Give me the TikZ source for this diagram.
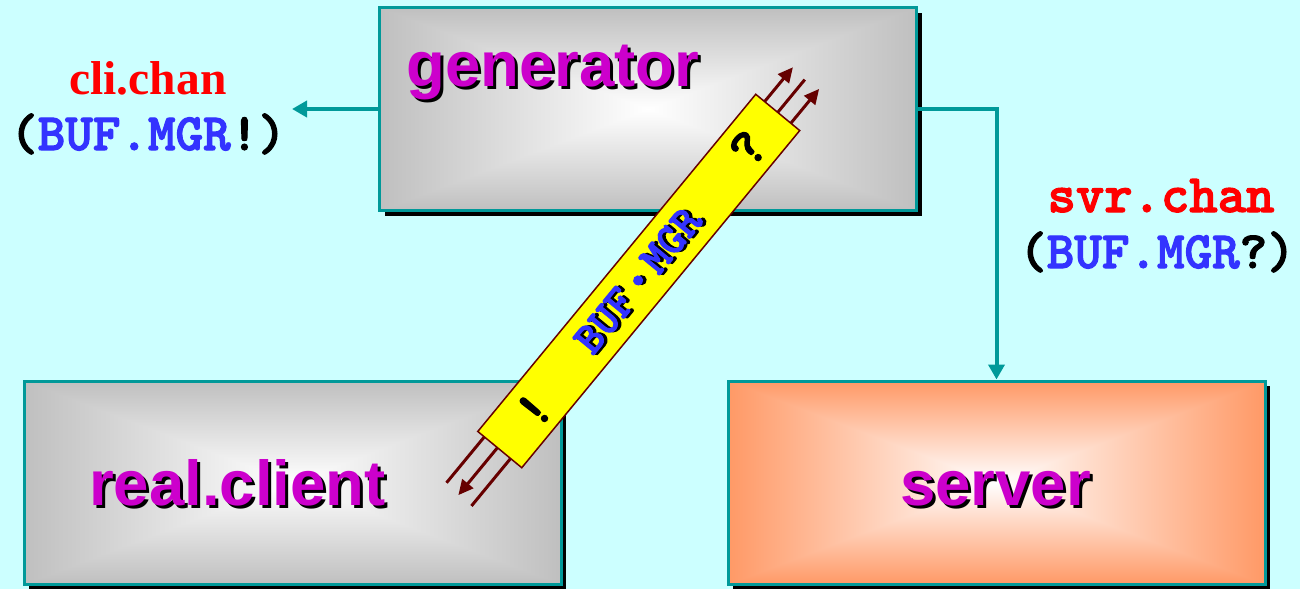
\documentclass[tikz,border=0pt]{standalone}
\usepackage{fontspec}
\setmainfont{Liberation Sans}
\newfontfamily\serifb{Liberation Serif}
\newfontfamily\monob{lmmonolt10-bold.otf}[FakeBold=2.2]
\usetikzlibrary{arrows.meta,shadings,shadows}

\definecolor{bgc}{HTML}{CCFFFF}
\definecolor{tealc}{HTML}{009999}
\definecolor{magc}{HTML}{CC00CC}
\definecolor{redc}{HTML}{FF0000}
\definecolor{bluec}{HTML}{3333FF}
\definecolor{dredc}{HTML}{660000}
\definecolor{barc}{HTML}{FFFF00}

\pgfdeclarefunctionalshading{graybox}{\pgfpoint{-50bp}{-50bp}}{\pgfpoint{50bp}{50bp}}{}{
  abs exch abs 2 copy lt {exch} if pop 25 div dup 1 gt {pop 1} if
  0.25 mul 1 exch sub dup dup
}
\pgfdeclarefunctionalshading{orangebox}{\pgfpoint{-50bp}{-50bp}}{\pgfpoint{50bp}{50bp}}{}{
  abs exch abs 2 copy lt {exch} if pop 25 div dup 1 gt {pop 1} if
  dup 0.4 mul 1 exch sub exch 0.6 mul 1 exch sub 1 3 1 roll
}

\newcommand\shadowed[3]{\leavevmode\rlap{\hspace{#2}\raisebox{-#2}{\color{black}#3}}{\color{#1}#3}}

\begin{document}
\begin{tikzpicture}[x=1pt,y=1pt,
  procbox/.style={draw=tealc, line width=3pt, minimum width=537pt, minimum height=203pt,
    inner sep=0pt, drop shadow={shadow xshift=5pt, shadow yshift=-5pt, fill=black, opacity=1}},
  boxlabel/.style={anchor=base west, inner sep=0pt, font=\bfseries\fontsize{63.5}{63.5}\selectfont},
  conn/.style={draw=tealc, line width=4pt, -{Triangle[length=15pt,width=16pt]}},
  chanlabel/.style={anchor=base, inner sep=0pt},
  barstyle/.style={draw=dredc, line width=1.5pt, fill=barc, minimum width=437pt, minimum height=57pt, inner sep=0pt},
  barline/.style={draw=dredc, line width=3pt},
  bararrow/.style={barline, -{Triangle[length=15pt,width=14pt]}},
  bartext/.style={inner sep=0pt, font=\monob\fontsize{45}{45}\selectfont},
  marktext/.style={inner sep=0pt, font=\monob\fontsize{54}{54}\selectfont}
]
\fill[bgc] (0,0) rectangle (1300,-589);
\useasboundingbox (0,0) rectangle (1300,-589);

% boxes
\node[procbox, shading=graybox] (gen) at (648,-109) {};
\node[procbox, shading=graybox] (cli) at (292.5,-482.5) {};
\node[procbox, shading=orangebox] (srv) at (996.5,-482.5) {};

% box labels
\node[boxlabel] (genl) at (406,-86) {\shadowed{magc}{3pt}{generator}};
\node[boxlabel] (clil) at (89,-505) {\shadowed{magc}{3pt}{real.client}};
\node[boxlabel] (srvl) at (900,-505) {\shadowed{magc}{3pt}{server}};

% channel labels
\node[chanlabel, font=\serifb\bfseries\fontsize{47.5}{47.5}\selectfont, text=redc] (clic) at (148,-94) {cli.chan};
\node[chanlabel, font=\monob\fontsize{52.5}{52.5}\selectfont] (clit) at (148,-150) {(\textcolor{bluec}{BUF.MGR}!)};
\node[chanlabel, font=\monob\fontsize{54}{54}\selectfont, text=redc] (svrc) at (1161,-212) {svr.chan};
\node[chanlabel, font=\monob\fontsize{52.5}{52.5}\selectfont] (svrt) at (1157,-268) {(\textcolor{bluec}{BUF.MGR}?)};

% connectors
\coordinate (cliend) at (292,-109);
\draw[conn] (gen.west) -- (cliend);
\draw[conn] (gen.east) -| (srv.north);

% yellow bar
\begin{scope}[shift={(638.75,-281)}, rotate=50.5, transform shape]
  \node[barstyle] (bar) at (0,0) {};
  \node[bartext] (bartxt) at (0,0) {\shadowed{bluec}{2.5pt}{BUF\raisebox{0.2em}{\scalebox{1.4}{.}}MGR}};
  \node[marktext] (qm) at (172,0) {?};
  \node[marktext] (em) at (-166,-1) {!};
  \coordinate (ta1) at (218.5,17);  \coordinate (tb1) at (263,17);
  \coordinate (ta2) at (218.5,0);   \coordinate (tb2) at (261,0);
  \coordinate (ta3) at (218.5,-17); \coordinate (tb3) at (263,-17);
  \coordinate (ba1) at (-218.5,20); \coordinate (bb1) at (-278,20);
  \coordinate (ba2) at (-218.5,3);  \coordinate (bb2) at (-280,3);
  \coordinate (ba3) at (-218.5,-14);\coordinate (bb3) at (-280,-14);
  \draw[bararrow] (ta1) -- (tb1);
  \draw[barline]  (ta2) -- (tb2);
  \draw[bararrow] (ta3) -- (tb3);
  \draw[barline]  (ba1) -- (bb1);
  \draw[bararrow] (ba2) -- (bb2);
  \draw[barline]  (ba3) -- (bb3);
\end{scope}
\end{tikzpicture}
\end{document}
